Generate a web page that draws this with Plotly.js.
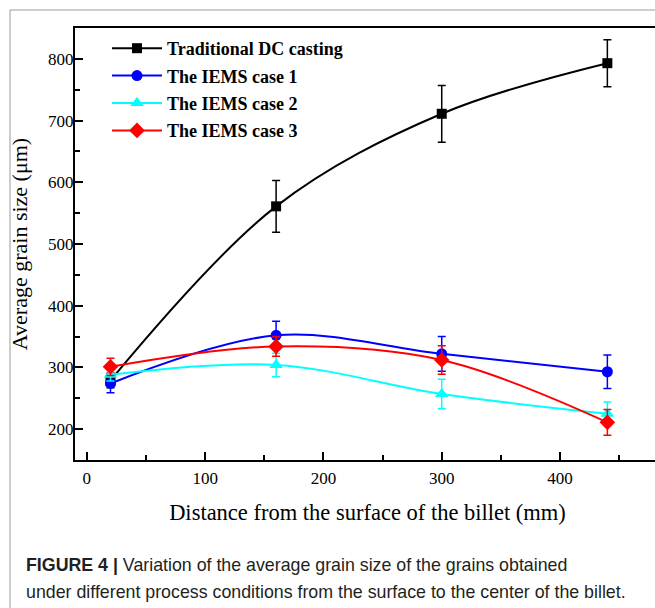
<!DOCTYPE html>
<html>
<head>
<meta charset="utf-8">
<script src="https://cdn.plot.ly/plotly-3.0.1.min.js"></script>
<style>
  html, body { margin: 0; padding: 0; background: #fff; overflow: hidden; }
  #chart { width: 660px; height: 608px; }
</style>
</head>
<body>
<div id="chart"></div>
<script>
// ---- data ----
const distance = [20, 160, 300, 440];

const seriesNames = ["Traditional DC casting", "The IEMS case 1", "The IEMS case 2", "The IEMS case 3"];

const dcCasting    = [279, 561, 711, 793];
const dcCastingErr = [12, 42, 46, 38];

const iems1    = [274, 352, 322, 293];
const iems1Err = [15, 23, 28, 27];

const iems2    = [288, 304, 257, 225];
const iems2Err = [10, 19, 24, 19];

const iems3    = [301, 334, 312, 211];
const iems3Err = [14, 16, 23, 21];

const xTickVals = [0, 100, 200, 300, 400];
const yTickVals = [200, 300, 400, 500, 600, 700, 800];

const xTitle = "Distance from the surface of the billet (mm)";
const yTitle = "Average grain size (μm)";
const captionLine1 = "<b>FIGURE 4 |</b> Variation of the average grain size of the grains obtained";
const captionLine2 = "under different process conditions from the surface to the center of the billet.";

// ---- styling ----
const serif = "Liberation Serif, Times New Roman, serif";
const sans = "Liberation Sans, Arial, sans-serif";

function makeTrace(name, y, err, color, symbol, size, group) {
  return {
    type: "scatter",
    mode: "lines+markers",
    name: name,
    legendgroup: group,
    x: distance,
    y: y,
    line: { color: color, width: 2, shape: "spline", smoothing: 1 },
    marker: { color: color, symbol: symbol, size: size },
    error_y: { type: "data", array: err, visible: true, color: color, thickness: 1.5, width: 4 }
  };
}

const traces = [
  makeTrace(seriesNames[0], dcCasting, dcCastingErr, "#000000", "square", 10, "g0"),
  makeTrace(seriesNames[1], iems1, iems1Err, "#0000ff", "circle", 11, "g1"),
  makeTrace(seriesNames[2], iems2, iems2Err, "#00ffff", "triangle-up", 12, "g2"),
  makeTrace(seriesNames[3], iems3, iems3Err, "#ff0000", "diamond", 12, "g3")
];

const W = 660, H = 608;
const mL = 75, mR = 0, mT = 28, mB = 148;
const pw = W - mL - mR, ph = H - mT - mB;
const px2x = p => (p - mL) / pw;
const py2y = p => 1 - (p - mT) / ph;

const layout = {
  width: W,
  height: H,
  margin: { l: mL, r: mR, t: mT, b: mB, pad: 0 },
  paper_bgcolor: "#ffffff",
  plot_bgcolor: "#ffffff",
  showlegend: true,
  legend: {
    x: px2x(107), y: py2y(30), xanchor: "left", yanchor: "top",
    bgcolor: "rgba(0,0,0,0)", borderwidth: 0,
    font: { family: serif, size: 18, color: "#000", weight: "bold" },
    itemwidth: 50,
    tracegroupgap: 1
  },
  xaxis: {
    range: [-10, 484.5],
    tickvals: xTickVals,
    ticks: "inside", ticklen: 8, tickwidth: 2, tickcolor: "#000",
    minor: { dtick: 50, tick0: 0, ticks: "inside", ticklen: 5, tickwidth: 2, tickcolor: "#000" },
    showline: true, linewidth: 2, linecolor: "#000", mirror: true,
    showgrid: false, zeroline: false,
    ticklabelstandoff: 2,
    tickfont: { family: serif, size: 17, color: "#000" },
    title: { text: xTitle, font: { family: serif, size: 22.5, color: "#000" }, standoff: 17 }
  },
  yaxis: {
    range: [150, 850],
    tickvals: yTickVals,
    ticks: "inside", ticklen: 8, tickwidth: 2, tickcolor: "#000",
    minor: { dtick: 50, tick0: 0, ticks: "inside", ticklen: 5, tickwidth: 2, tickcolor: "#000" },
    showline: true, linewidth: 2, linecolor: "#000", mirror: true,
    showgrid: false, zeroline: false,
    ticklabelstandoff: -4,
    tickfont: { family: serif, size: 17, color: "#000" },
    title: { text: yTitle, font: { family: serif, size: 22, color: "#000" }, standoff: 14 }
  },
  shapes: [
    { type: "line", xref: "paper", yref: "paper", x0: px2x(10), x1: px2x(10), y0: py2y(10), y1: py2y(700),
      line: { color: "#9a9a9a", width: 1 } },
    { type: "line", xref: "paper", yref: "paper", x0: px2x(10), x1: px2x(700), y0: py2y(10), y1: py2y(10),
      line: { color: "#9a9a9a", width: 1 } }
  ],
  annotations: [
    { xref: "paper", yref: "paper", x: px2x(24), y: py2y(565), xanchor: "left", yanchor: "middle",
      showarrow: false, text: captionLine1, font: { family: sans, size: 17.8, color: "#231f20" } },
    { xref: "paper", yref: "paper", x: px2x(24), y: py2y(592), xanchor: "left", yanchor: "middle",
      showarrow: false, text: captionLine2, font: { family: sans, size: 17.8, color: "#231f20" } }
  ]
};

Plotly.newPlot("chart", traces, layout, { displayModeBar: false, responsive: false });
</script>
</body>
</html>
